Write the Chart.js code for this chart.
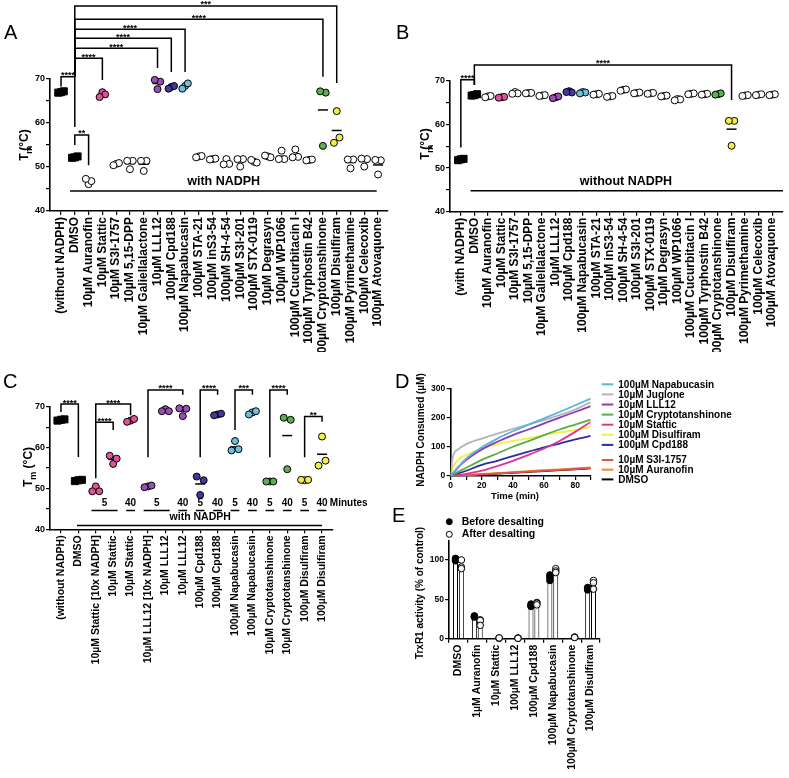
<!DOCTYPE html>
<html lang="en">
<head>
<meta charset="UTF-8">
<title>STAT3 inhibitors and TrxR1</title>
<script src="https://cdn.jsdelivr.net/npm/chart.js@4.4.1/dist/chart.umd.min.js"></script>
<style>
	body,html{margin:0;padding:0;background:#fff;}
	#page{position:relative;width:789px;height:778px;overflow:hidden;}
	canvas{position:absolute;}
	.tag{position:absolute;font:20px "Liberation Sans",Arial,sans-serif;line-height:20px;color:#000;}
</style>
</head>
<body>
<div id="page">
	<canvas id="chartA" width="395" height="352" style="left:0;top:0"></canvas>
	<canvas id="chartB" width="389" height="352" style="left:400px;top:0"></canvas>
	<canvas id="chartC" width="395" height="330" style="left:0;top:360px"></canvas>
	<canvas id="chartD" width="389" height="145" style="left:400px;top:360px"></canvas>
	<canvas id="chartE" width="389" height="288" style="left:400px;top:490px"></canvas>
	<div class="tag" style="left:4px;top:22px">A</div>
	<div class="tag" style="left:396px;top:22px">B</div>
	<div class="tag" style="left:3px;top:371px">C</div>
	<div class="tag" style="left:395px;top:371px">D</div>
	<div class="tag" style="left:392px;top:505px">E</div>
</div>
<script>
const FONT = '"Liberation Sans", Arial, sans-serif';
Chart.defaults.font.family = FONT;
Chart.defaults.font.weight = 'bold';
Chart.defaults.color = '#000';

// ---- colours used for the compounds
const BLACK = '#000000', WHITE = '#ffffff', PINK = '#e2529a', PURPLE = '#9a4fb6',
	INDIGO = '#41399c', LBLUE = '#6cc0dd', GREEN = '#5fae55', YELLOW = '#f3ee4a';

// ---- A: thermal shift with NADPH
const aLabels = ['(without NADPH)', 'DMSO', '10µM Auranofin', '10µM Stattic', '10µM S3I-1757', '10µM 5,15-DPP',
	'10µM Galiellalactone', '10µM LLL12', '100µM Cpd188', '100µM Napabucasin', '100µM STA-21', '100µM inS3-54',
	'100µM SH-4-54', '100µM S3I-201', '100µM STX-0119', '10µM Degrasyn', '100µM WP1066', '100µM Cucurbitacin I',
	'100µM Tyrphostin B42', '100µM Cryptotanshinone', '100µM Disulfiram', '100µM Pyrimethamine', '100µM Celecoxib',
	'100µM Atovaquone'];
const aValues = [[66.9, 67.2, 67.0], [52.1, 52.4, 52.2], [47.3, 46.8, 46.1], [65.9, 66.5, 67.0], [50.4, 50.9, 50.7],
	[51.4, 51.4, 49.5], [51.4, 51.4, 49.1], [69.8, 69.4, 67.7], [67.8, 68.4, 68.2], [67.8, 69.0, 68.4],
	[52.2, 52.5, 52.4], [51.7, 51.9, 51.8], [50.6, 50.7, 51.8], [51.8, 51.8, 50.1], [51.6, 51.0, 51.2],
	[52.6, 52.2, 52.4], [51.8, 51.8, 53.7], [52.2, 52.3, 54.0], [51.5, 51.7, 51.6], [67.2, 66.9, 54.8],
	[55.5, 56.7, 62.7], [51.7, 51.7, 49.7], [51.9, 51.8, 50.1], [51.6, 51.5, 48.3]];
const aColors = [BLACK, BLACK, WHITE, PINK, WHITE, WHITE, WHITE, PURPLE, INDIGO, LBLUE, WHITE, WHITE, WHITE, WHITE,
	WHITE, WHITE, WHITE, WHITE, WHITE, GREEN, YELLOW, WHITE, WHITE, WHITE];
// [from, to, bar height, left leg end, right leg end, stars]
const aBrackets = [[0, 1, 70.5, 68.3, 59.1, '****'], [1, 2, 57.3, 55.0, 50.4, '**'],
	[1, 3, 74.7, 70.5, 69.8, '****'], [1, 7, 77.0, 70.5, 72.5, '****'], [1, 8, 79.25, 70.5, 71.6, '****'],
	[1, 9, 81.3, 70.5, 71.6, '****'], [1, 19, 83.6, 70.5, 70.5, '****'], [1, 20, 86.6, 70.5, 69.1, '***']];

// ---- B: thermal shift without NADPH
const bLabels = ['(with NADPH)'].concat(aLabels.slice(1));
const bValues = [[51.8, 52.1, 52.0], [66.6, 66.9, 66.7], [66.2, 66.5, 66.4], [66.1, 66.3, 66.2], [67.0, 67.1, 67.4],
	[67.1, 67.2, 67.2], [66.5, 66.7, 66.6], [66.0, 66.4, 66.2], [67.4, 67.3, 67.6], [67.1, 67.3, 67.4],
	[66.8, 67.0, 66.9], [66.3, 66.5, 66.4], [67.7, 68.0, 67.9], [67.1, 67.3, 67.2], [67.0, 67.2, 67.1],
	[66.4, 66.6, 66.5], [65.5, 65.7, 65.8], [66.9, 67.1, 67.0], [66.8, 67.0, 66.9], [66.8, 67.1, 66.9],
	[60.8, 60.8, 55.1], [66.5, 66.7, 66.6], [66.7, 66.9, 66.8], [66.7, 66.9, 66.8]];
const bColors = aColors.slice();
const bBrackets = [[0, 1, 70.2, 54.7, 69.0, '****'], [1, 20, 73.6, 69.0, 65.6, '****']];

// ---- C: time course with NADPH
const cLabels = ['(without NADPH)', 'DMSO', '10µM Stattic [10x NADPH]', '10µM Stattic', '10µM Stattic',
	'10µM LLL12 [10x NADPH]', '10µM LLL12', '10µM LLL12', '100µM Cpd188', '100µM Cpd188', '100µM Napabucasin',
	'100µM Napabucasin', '10µM Cryptotanshinone', '10µM Cryptotanshinone', '100µM Disulfiram', '100µM Disulfiram'];
const cValues = [[66.6, 66.9, 66.8], [51.8, 52.1, 52.0], [49.3, 49.3, 50.5], [58.0, 57.3, 56.0], [66.3, 67.0, 66.6],
	[50.3, 50.7, 50.5], [68.9, 68.9, 69.4], [69.6, 69.5, 67.7], [52.9, 52.0, 48.4], [67.9, 68.3, 68.1],
	[59.3, 59.6, 61.6], [68.1, 68.9, 68.6], [51.7, 51.7, 51.7], [67.3, 66.8, 54.7], [52.1, 52.1, 52.0],
	[55.6, 56.8, 62.7]];
const cColors = [BLACK, BLACK, PINK, PINK, PINK, PURPLE, PURPLE, PURPLE, INDIGO, INDIGO, LBLUE, LBLUE,
	GREEN, GREEN, YELLOW, YELLOW];
const cBrackets = [[0, 1, 70.65, 68.7, 57.7, '****'], [2, 4, 70.65, 66.2, 67.9, '****'],
	[2, 3, 66.2, 52.5, 64.3, '****'], [5, 7, 74.1, 57.6, 72.9, '****'], [8, 9, 74.1, 57.6, 72.9, '****'],
	[10, 11, 74.1, 64.3, 72.9, '***'], [12, 13, 74.1, 57.6, 72.9, '****'], [14, 15, 67.6, 57.6, 66.3, '**']];
// incubation time labels: [text, first column, last column]
const cMinutes = [['5', 2, 3], ['40', 4, 4], ['5', 5, 6], ['40', 7, 7], ['5', 8, 8], ['40', 9, 9],
	['5', 10, 10], ['40', 11, 11], ['5', 12, 12], ['40', 13, 13], ['5', 14, 14], ['40', 15, 15]];

// ---- D: NADPH consumption
const dTime = [0, 1, 2, 5, 10, 20, 30, 40, 50, 60, 70, 80, 90];
const dNapabucasin = [0, 7, 14, 32, 60, 98, 128, 153, 176, 197, 219, 242, 265];
const dJuglone = [0, 55, 76, 92, 109, 128, 145, 161, 176, 191, 208, 227, 253];
const dLLL12 = [0, 6, 12, 30, 55, 91, 117, 140, 159, 180, 200, 219, 239];
const dCryptotanshinone = [0, 3, 6, 15, 28, 55, 77, 100, 119, 140, 159, 176, 193];
const dStattic = [0, 0, 1, 3, 7, 18, 34, 52, 72, 94, 120, 151, 185];
const dDisulfiram = [0, 26, 36, 57, 72, 94, 109, 120, 129, 140, 149, 157, 168];
const dCpd188 = [0, 2, 4, 9, 18, 38, 52, 68, 83, 98, 111, 125, 137];
const dS3I1757 = [0, 0, 1, 1, 3, 6, 9, 12, 15, 18, 21, 24, 27];
const dAuranofin = [0, 0, 1, 2, 3, 7, 10, 13, 17, 20, 23, 26, 29];
const dDMSO = [0, 0, 0, 1, 2, 5, 8, 11, 14, 17, 20, 23, 26];
const dLabels = ['100µM Napabucasin', '10µM Juglone', '10µM LLL12', '10µM Cryptotanshinone', '10µM Stattic',
	'100µM Disulfiram', '100µM Cpd188', '10µM S3I-1757', '10µM Auranofin', 'DMSO'];
const dValues = [dNapabucasin, dJuglone, dLLL12, dCryptotanshinone, dStattic, dDisulfiram, dCpd188,
	dS3I1757, dAuranofin, dDMSO];
const dColors = ['#55b4e0', '#b5b5b5', '#8d3db3', '#58ad48', '#e0358e', '#f2f03c', '#302ba0', '#e5524f',
	'#f28a26', '#000000'];

// ---- E: TrxR1 activity before / after desalting
const eLabels = ['DMSO', '1µM Auranofin', '10µM Stattic', '100µM LLL12', '100µM Cpd188', '100µM Napabucasin',
	'100µM Cryptotanshinone', '100µM Disulfiram'];
const eBefore = [[102, 100, 99], [29, 28, 27.5], null, null, [44, 42, 41], [81, 78, 74], null, [65, 63, 62]];
const eAfter = [[100, 91, 89], [24, 23, 17], [1, 0.5, 1], [0.5, 1, 0.5], [46, 45, 43], [89, 86, 84],
	[2, 2, 1.5], [74, 71, 63]];

const JIT = [-0.2, 0.2, 0];

function mean(v) {
	return v.reduce((a, b) => a + b, 0) / v.length;
}

function axisLine() {
	return {
		grid: {drawOnChartArea: false, color: '#000', lineWidth: 1.2, tickLength: 4},
		border: {color: '#000', width: 1.6}
	};
}

function drawTm(ctx, cx, cy, size) {
	ctx.save();
	ctx.translate(cx, cy);
	ctx.rotate(-Math.PI / 2);
	const big = 'bold ' + size + 'px ' + FONT, small = 'bold ' + Math.round(size * 0.72) + 'px ' + FONT;
	ctx.font = big;
	const wT = ctx.measureText('T').width, wR = ctx.measureText(' (°C)').width;
	ctx.font = small;
	const wm = ctx.measureText('m').width;
	const x0 = -(wT + wm + wR) / 2, base = size * 0.35;
	ctx.fillStyle = '#000';
	ctx.textBaseline = 'alphabetic';
	ctx.font = big;
	ctx.fillText('T', x0, base);
	ctx.font = small;
	ctx.fillText('m', x0 + wT, base + size * 0.28);
	ctx.font = big;
	ctx.fillText(' (°C)', x0 + wT + wm, base);
	ctx.restore();
}

function vText(ctx, text, cx, cy, size) {
	ctx.save();
	ctx.translate(cx, cy);
	ctx.rotate(-Math.PI / 2);
	ctx.font = 'bold ' + size + 'px ' + FONT;
	ctx.textAlign = 'center';
	ctx.textBaseline = 'middle';
	ctx.fillStyle = '#000';
	ctx.fillText(text, 0, 0);
	ctx.restore();
}

function dotExtras(p) {
	return {
		id: 'dotExtras',
		beforeDatasetsDraw(chart) {
			const {ctx} = chart, x = chart.scales.x, y = chart.scales.y;
			ctx.save();
			ctx.strokeStyle = '#000';
			ctx.lineWidth = 1.5;
			p.values.forEach((v, i) => {
				const px = x.getPixelForValue(i), py = y.getPixelForValue(mean(v));
				ctx.beginPath();
				ctx.moveTo(px - 5, py);
				ctx.lineTo(px + 5, py);
				ctx.stroke();
			});
			ctx.restore();
		},
		afterDatasetsDraw(chart) {
			const {ctx} = chart, x = chart.scales.x, y = chart.scales.y;
			ctx.save();
			ctx.strokeStyle = '#000';
			ctx.fillStyle = '#000';
			ctx.lineWidth = 1.5;
			p.brackets.forEach(b => {
				const x1 = x.getPixelForValue(b[0]), x2 = x.getPixelForValue(b[1]), yt = y.getPixelForValue(b[2]);
				ctx.beginPath();
				ctx.moveTo(x1, y.getPixelForValue(b[3]));
				ctx.lineTo(x1, yt);
				ctx.lineTo(x2, yt);
				ctx.lineTo(x2, y.getPixelForValue(b[4]));
				ctx.stroke();
				ctx.font = 'bold 9px ' + FONT;
				ctx.textAlign = 'center';
				ctx.textBaseline = 'alphabetic';
				ctx.fillText(b[5], (x1 + x2) / 2, yt + 1.5);
			});
			const g = p.group;
			ctx.beginPath();
			ctx.moveTo(x.getPixelForValue(g.x1), y.getPixelForValue(g.lineY));
			ctx.lineTo(x.getPixelForValue(g.x2), y.getPixelForValue(g.lineY));
			ctx.stroke();
			ctx.font = 'bold ' + g.size + 'px ' + FONT;
			ctx.textAlign = 'center';
			ctx.textBaseline = 'middle';
			ctx.fillText(g.text, x.getPixelForValue(g.textX), y.getPixelForValue(g.textY));
			if (p.minutes) {
				const ty = y.getPixelForValue(46.4), ly = y.getPixelForValue(44.6);
				ctx.font = 'bold 10px ' + FONT;
				p.minutes.forEach(m => {
					ctx.fillText(m[0], x.getPixelForValue((m[1] + m[2]) / 2), ty);
					ctx.beginPath();
					ctx.moveTo(x.getPixelForValue(m[1] - 0.25), ly);
					ctx.lineTo(x.getPixelForValue(m[2] + 0.25), ly);
					ctx.stroke();
				});
				ctx.textAlign = 'left';
				ctx.fillText('Minutes', x.getPixelForValue(15.45), ty);
			}
			drawTm(ctx, p.titleX, p.titleY, 12);
			ctx.restore();
		}
	};
}

function dotPanel(id, p) {
	const datasets = [0, 1, 2].map(r => ({
		data: p.values.map((v, i) => ({x: i + JIT[r], y: v[r]})),
		pointBackgroundColor: p.colors,
		pointBorderColor: '#000',
		pointBorderWidth: 1,
		pointStyle: p.colors.map((c, i) => i < 2 ? 'rect' : 'circle'),
		pointRadius: p.colors.map((c, i) => i < 2 ? 5 : 3.5),
		clip: false
	}));
	const xAxis = axisLine(), yAxis = axisLine();
	Object.assign(xAxis, {
		min: p.xMin, max: p.xMax,
		afterBuildTicks: s => { s.ticks = p.labels.map((l, i) => ({value: i})); },
		afterFit: s => { s.height = p.xHeight; s.paddingLeft = 0; s.paddingRight = 0; },
		ticks: {autoSkip: false, minRotation: 90, maxRotation: 90, padding: 2, font: {size: p.labelSize},
			callback: v => p.labels[v]}
	});
	Object.assign(yAxis, {
		min: 40, max: 70,
		afterFit: s => { s.width = 50; s.paddingTop = 0; s.paddingBottom = 0; },
		ticks: {stepSize: 5, padding: 1, font: {size: 9}, callback: v => v % 10 === 0 ? v : ''}
	});
	new Chart(document.getElementById(id), {
		type: 'scatter',
		data: {datasets},
		options: {
			responsive: false,
			animation: false,
			events: [],
			layout: {padding: p.pad},
			plugins: {legend: {display: false}, tooltip: {enabled: false}},
			scales: {x: xAxis, y: yAxis}
		},
		plugins: [dotExtras(p)]
	});
}

dotPanel('chartA', {
	labels: aLabels, values: aValues, colors: aColors, brackets: aBrackets,
	xMin: -0.8, xMax: 23.72, xHeight: 141, labelSize: 12,
	pad: {top: 79, right: 7, left: 0, bottom: 0},
	group: {text: 'with NADPH', x1: 0.65, x2: 22.9, lineY: 44.55, textX: 11.8, textY: 46.6, size: 12.5},
	titleX: 24, titleY: 137
});

dotPanel('chartB', {
	labels: bLabels, values: bValues, colors: bColors, brackets: bBrackets,
	xMin: -0.8, xMax: 23.8, xHeight: 140.3, labelSize: 12,
	pad: {top: 80.7, right: 0, left: 0, bottom: 0},
	group: {text: 'without NADPH', x1: 0.72, x2: 23.8, lineY: 44.8, textX: 12.2, textY: 46.8, size: 12.5},
	titleX: 25, titleY: 136
});

dotPanel('chartC', {
	labels: cLabels, values: cValues, colors: cColors, brackets: cBrackets, minutes: cMinutes,
	xMin: -0.63, xMax: 15.63, xHeight: 160.7, labelSize: 10.5,
	pad: {top: 46.7, right: 62, left: 0, bottom: 0},
	group: {text: 'with NADPH', x1: 0.92, x2: 15.0, lineY: 40.9, textX: 8.0, textY: 43.0, size: 10.5},
	titleX: 28, titleY: 107
});

// ---- D
const dExtras = {
	id: 'dExtras',
	afterDraw(chart) {
		const {ctx} = chart;
		ctx.save();
		vText(ctx, 'NADPH Consumed (µM)', 21, 70, 10);
		ctx.font = 'bold 9.5px ' + FONT;
		ctx.textAlign = 'center';
		ctx.textBaseline = 'middle';
		ctx.fillStyle = '#000';
		ctx.fillText('Time (min)', 115, 136);
		ctx.font = 'bold 10px ' + FONT;
		ctx.textAlign = 'left';
		dLabels.forEach((l, i) => {
			const ly = i < 7 ? 24.3 + i * 10.1 : 100 + (i - 7) * 9.7;
			ctx.strokeStyle = dColors[i];
			ctx.lineWidth = 2;
			ctx.beginPath();
			ctx.moveTo(201.7, ly);
			ctx.lineTo(213.3, ly);
			ctx.stroke();
			ctx.fillText(l, 218.3, ly + 0.5);
		});
		ctx.restore();
	}
};

const dX = axisLine(), dY = axisLine();
Object.assign(dX, {
	type: 'linear', min: 0, max: 90,
	afterFit: s => { s.height = 29; s.paddingLeft = 0; s.paddingRight = 0; },
	ticks: {stepSize: 10, padding: 1, maxRotation: 0, font: {size: 8.5}, callback: v => v % 20 === 0 ? v : ''}
});
Object.assign(dY, {
	min: 0, max: 300,
	afterFit: s => { s.width = 50.7; s.paddingTop = 0; s.paddingBottom = 0; },
	ticks: {stepSize: 100, padding: 1.5, font: {size: 8.5}}
});
new Chart(document.getElementById('chartD'), {
	type: 'line',
	data: {
		datasets: dValues.map((vals, k) => ({
			label: dLabels[k],
			data: dTime.map((t, i) => ({x: t, y: vals[i]})),
			borderColor: dColors[k],
			borderWidth: 1.8,
			pointRadius: 0,
			cubicInterpolationMode: 'monotone',
			fill: false
		}))
	},
	options: {
		responsive: false,
		animation: false,
		events: [],
		layout: {padding: {top: 28.3, right: 198.3, left: 0, bottom: 0}},
		plugins: {legend: {display: false}, tooltip: {enabled: false}},
		scales: {x: dX, y: dY}
	},
	plugins: [dExtras]
});

// ---- E
const eExtras = {
	id: 'eExtras',
	afterDatasetsDraw(chart) {
		const {ctx} = chart, y = chart.scales.y;
		ctx.save();
		ctx.lineWidth = 1;
		ctx.strokeStyle = '#000';
		[eBefore, eAfter].forEach((reps, d) => {
			const meta = chart.getDatasetMeta(d);
			reps.forEach((v, i) => {
				if (!v) return;
				const bx = meta.data[i].x;
				v.forEach(val => {
					ctx.beginPath();
					ctx.arc(bx, y.getPixelForValue(val), 3.3, 0, Math.PI * 2);
					ctx.fillStyle = d === 0 ? '#000' : 'rgba(255,255,255,0.85)';
					ctx.fill();
					ctx.stroke();
				});
			});
		});
		vText(ctx, 'TrxR1 activity (% of control)', 20, 103, 10);
		ctx.font = 'bold 10.5px ' + FONT;
		ctx.textAlign = 'left';
		ctx.textBaseline = 'middle';
		[['Before desalting', '#000'], ['After desalting', '#fff']].forEach((e, k) => {
			const ly = 31.7 + k * 12.6;
			ctx.beginPath();
			ctx.arc(49.3, ly, 3, 0, Math.PI * 2);
			ctx.fillStyle = e[1];
			ctx.fill();
			ctx.stroke();
			ctx.fillStyle = '#000';
			ctx.fillText(e[0], 61.7, ly);
		});
		ctx.restore();
	}
};

const eX = axisLine(), eY = axisLine();
Object.assign(eX, {
	afterFit: s => { s.height = 139.3; s.paddingLeft = 0; s.paddingRight = 0; },
	ticks: {autoSkip: false, minRotation: 90, maxRotation: 90, padding: 2, font: {size: 10.5}}
});
Object.assign(eY, {
	min: 0, max: 125,
	afterBuildTicks: s => { s.ticks = [{value: 0}, {value: 50}, {value: 100}]; },
	afterFit: s => { s.width = 49; s.paddingTop = 0; s.paddingBottom = 0; },
	ticks: {padding: 1, font: {size: 8.5}}
});
new Chart(document.getElementById('chartE'), {
	type: 'bar',
	data: {
		labels: eLabels,
		datasets: [
			{label: 'Before desalting', data: eBefore.map(v => v ? mean(v) : null),
				backgroundColor: '#fff', borderColor: '#000', borderWidth: 1},
			{label: 'After desalting', data: eAfter.map(v => v ? mean(v) : null),
				backgroundColor: '#fff', borderColor: '#000', borderWidth: 1}
		]
	},
	options: {
		responsive: false,
		animation: false,
		events: [],
		categoryPercentage: 0.62,
		barPercentage: 0.85,
		layout: {padding: {top: 50.3, right: 189, left: 0, bottom: 0}},
		plugins: {legend: {display: false}, tooltip: {enabled: false}},
		scales: {x: eX, y: eY}
	},
	plugins: [eExtras]
});
</script>
</body>
</html>
